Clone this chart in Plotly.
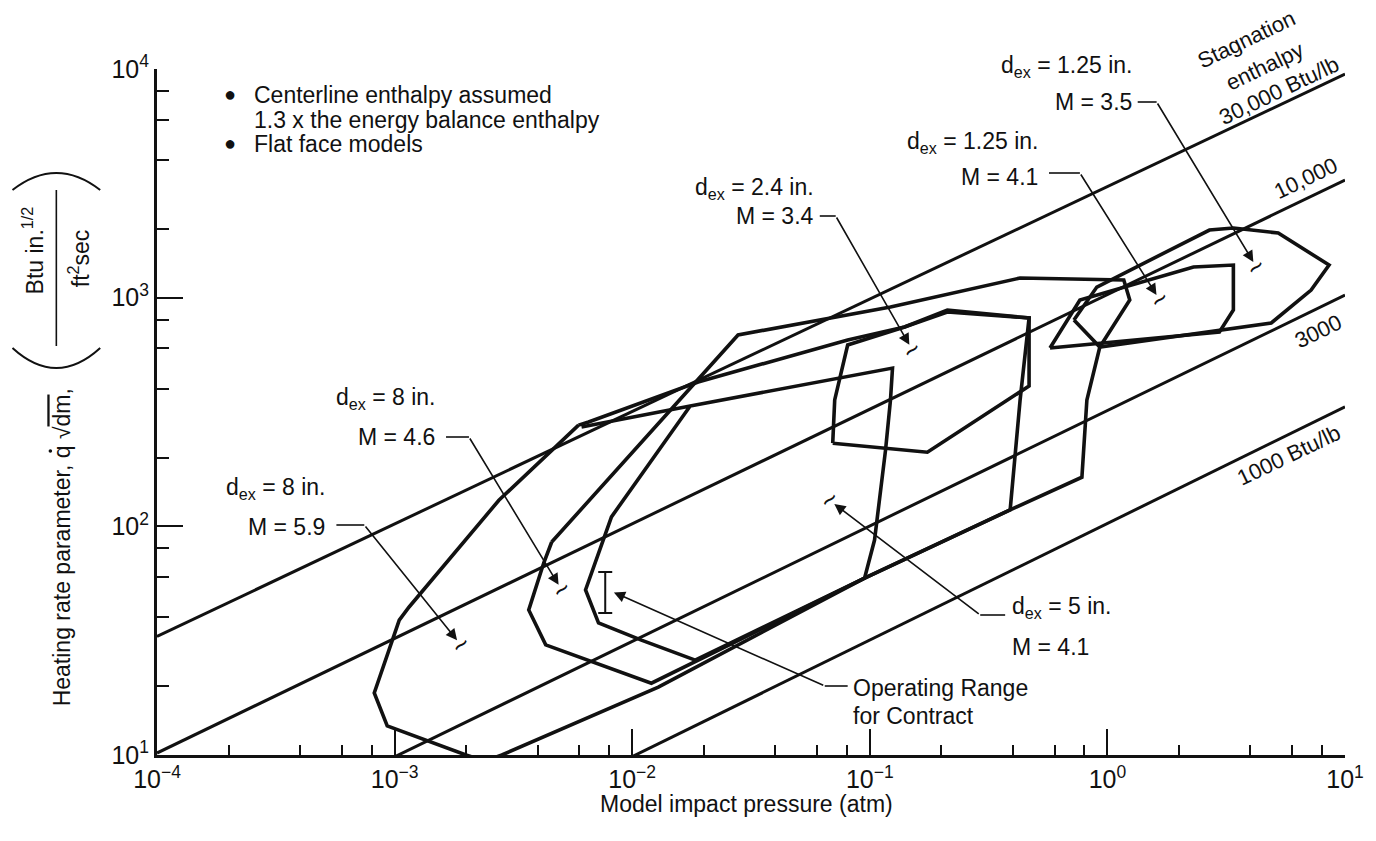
import math
import plotly.graph_objects as go

# ---------------- page / plot-area geometry (pixels) ----------------
FIG_W, FIG_H = 1376, 841
M_L, M_R, M_T, M_B = 157, 27, 69, 86
PLOT_W = FIG_W - M_L - M_R
PLOT_H = FIG_H - M_T - M_B
FONT = "Liberation Sans, Arial, Helvetica, sans-serif"
INK = "#111111"


def paper_x(px):
    return (px - M_L) / PLOT_W


def paper_y(py):
    return (FIG_H - M_B - py) / PLOT_H


def log_x(px):
    return -4 + 5 * paper_x(px)


def log_y(py):
    return 1 + 3 * paper_y(py)


# ---------------- data ----------------
pressure_ticks = [1e-4, 1e-3, 1e-2, 1e-1, 1e0, 1e1]
pressure_tick_text = ["10<sup>−4</sup>", "10<sup>−3</sup>", "10<sup>−2</sup>",
                      "10<sup>−1</sup>", "10<sup>0</sup>", "10<sup>1</sup>"]
rate_ticks = [1e1, 1e2, 1e3, 1e4]
rate_tick_text = ["10<sup>1</sup>", "10<sup>2</sup>", "10<sup>3</sup>", "10<sup>4</sup>"]

# stagnation-enthalpy lines, heating-rate parameter at p = 1e-4 and p = 10 atm
enthalpy_labels = ["30,000 Btu/lb", "10,000", "3000", "1000 Btu/lb"]
enthalpy_p_ends = [1e-4, 1e1]
enthalpy_q_start = [33.0, 10.2, 3.07, 0.94]
enthalpy_q_end = [9500.0, 3270.0, 1026.0, 333.0]

# operating envelopes (impact pressure, atm / heating-rate parameter)
p_d8_m59 = [5.945e-3, 6.55e-3, 0.01895, 0.08069, 0.1400, 0.2120, 0.4681, 0.4291, 0.3897,
            0.0951, 0.01288, 2.827e-3, 2.399e-3, 1.997e-3, 9.31e-4, 8.21e-4, 1.046e-3,
            1.151e-3, 2.747e-3, 5.945e-3]
q_d8_m59 = [277, 286, 428, 653, 744, 865, 815, 357, 118,
            59.4, 19.8, 10.0, 9.41, 10.0, 13.4, 18.7, 38.9,
            44.4, 130, 277]

p_d8_m46 = [4.584e-3, 0.01841, 0.02789, 0.1222, 0.4291, 1.172, 1.242, 0.9292, 0.8197,
            0.7811, 0.3897, 0.0951, 0.01204, 4.325e-3, 3.669e-3, 4.242e-3, 4.584e-3]
q_d8_m46 = [85.4, 428, 687, 910, 1219, 1195, 977, 608, 357,
            164, 118, 59.4, 20.6, 30.3, 43.1, 69.1, 85.4]

p_d5_m41 = [6.12e-3, 0.01754, 0.1246, 0.1222, 0.1165, 0.1047, 0.0951, 0.01841, 0.01093,
            7.214e-3, 6.362e-3, 8.18e-3, 0.01754]
q_d5_m41 = [272, 336, 492, 357, 216, 87.1, 59.4, 26.0, 31.8,
            37.8, 52.7, 110, 336]

p_d24_m34 = [0.06982, 0.07117, 0.08069, 0.1400, 0.2120, 0.4681, 0.4681, 0.1747, 0.06982]
q_d24_m34 = [231, 357, 621, 744, 883, 815, 411, 211, 231]

p_d125_m41 = [0.5733, 0.7661, 2.303, 3.390, 3.390, 2.961, 0.5733]
q_d125_m41 = [602, 977, 1362, 1389, 883, 708, 602]

p_d125_m35 = [0.7231, 0.9026, 2.689, 3.390, 5.236, 8.569, 7.201, 4.893, 0.9292, 0.7231]
q_d125_m35 = [799, 1113, 1976, 2017, 1918, 1389, 1080, 775, 608, 799]

envelopes = [(p_d8_m59, q_d8_m59), (p_d8_m46, q_d8_m46), (p_d5_m41, q_d5_m41),
             (p_d24_m34, q_d24_m34), (p_d125_m41, q_d125_m41), (p_d125_m35, q_d125_m35)]

# operating range for contract
contract_p = 7.7e-3
contract_q_low = 41.8
contract_q_high = 63.1

# points marked by the labelled leaders
pointer_p = [4.24, 1.66, 0.151, 5.05e-3, 1.90e-3, 0.0677, 7.94e-3]
pointer_q = [1361.0, 977.0, 590.0, 52.7, 30.3, 130.0, 52.7]

fig = go.Figure()

# enthalpy reference lines
for qs, qe in zip(enthalpy_q_start, enthalpy_q_end):
    fig.add_trace(go.Scatter(x=enthalpy_p_ends, y=[qs, qe], mode="lines",
                             line=dict(color=INK, width=3), hoverinfo="skip",
                             showlegend=False))

# nozzle envelopes
for px_, qy_ in envelopes:
    fig.add_trace(go.Scatter(x=px_, y=qy_, mode="lines",
                             line=dict(color=INK, width=3.6), hoverinfo="skip",
                             showlegend=False))

# operating range I-bar
fig.add_trace(go.Scatter(
    x=[contract_p], y=[contract_q_low], mode="markers",
    marker=dict(size=1, color="rgba(0,0,0,0)"),
    error_y=dict(type="data", symmetric=False,
                 array=[contract_q_high - contract_q_low], arrayminus=[0],
                 color=INK, thickness=2, width=7),
    hoverinfo="skip", showlegend=False))

annotations = []
shapes = []


def add_text(text, px, py, size=23, xanchor="center", angle=0, yanchor="middle"):
    annotations.append(dict(text=text, x=paper_x(px), y=paper_y(py), xref="paper",
                            yref="paper", showarrow=False, xanchor=xanchor,
                            yanchor=yanchor, textangle=angle,
                            font=dict(family=FONT, size=size, color=INK)))


def add_seg(x0, y0, x1, y1, width=1.6):
    shapes.append(dict(type="line", xref="paper", yref="paper",
                       x0=paper_x(x0), y0=paper_y(y0), x1=paper_x(x1), y1=paper_y(y1),
                       line=dict(color=INK, width=width)))


def add_arc(x0, x1, y_end, y_mid):
    xm = (x0 + x1) / 2
    shapes.append(dict(type="path", xref="paper", yref="paper",
                       path=(f"M {paper_x(x0)},{paper_y(y_end)} "
                             f"Q {paper_x(xm)},{paper_y(2 * y_mid - y_end)} "
                             f"{paper_x(x1)},{paper_y(y_end)}"),
                       line=dict(color=INK, width=2)))


def add_dot(cx, cy, r=1.8):
    shapes.append(dict(type="circle", xref="paper", yref="paper",
                       x0=paper_x(cx - r), x1=paper_x(cx + r),
                       y0=paper_y(cy + r), y1=paper_y(cy - r),
                       fillcolor=INK, line=dict(width=0)))


# legend notes
add_text("●", 230, 94, size=20)
add_text("Centerline enthalpy assumed", 252, 95, xanchor="left")
add_text("1.3 x the energy balance enthalpy", 252, 120, xanchor="left")
add_text("●", 230, 143, size=20)
add_text("Flat face models", 252, 144, xanchor="left")

# axis titles
add_text("Model impact pressure (atm)", 748, 804)
add_text("Heating rate parameter, q √<span style='text-decoration:overline'>dm</span>,",
         62, 547, angle=-90)
add_dot(50, 451)
add_text("Btu in.<sup>1/2</sup>", 33, 250, angle=-90)
add_text("ft<sup>2</sup>sec", 79, 258, angle=-90)
add_seg(56, 190, 56, 346, width=1.6)
add_arc(12, 100, 190, 173)
add_arc(12, 100, 348, 368)

# enthalpy line labels
add_text("Stagnation", 1250, 40, size=22, angle=-25.6)
add_text("enthalpy", 1268, 66, size=22, angle=-25.6)
add_text("30,000 Btu/lb", 1283, 90, size=22, angle=-25.6)
add_text("10,000", 1309, 178, size=22, angle=-25.6)
add_text("3000", 1322, 332, size=22, angle=-25.6)
add_text("1000 Btu/lb", 1292, 455, size=22, angle=-25.6)

# labelled leaders: (line1, line2, text x, y1, y2, anchor, bend start, bend end)
leaders = [
    ("d<sub>ex</sub> = 1.25 in.", "M = 3.5", 1137, 67, 102, "right", (1141, 102), (1160, 102)),
    ("d<sub>ex</sub> = 1.25 in.", "M = 4.1", 1043, 142, 177, "right", (1052, 173), (1083, 173)),
    ("d<sub>ex</sub> = 2.4 in.", "M = 3.4", 818, 188, 216, "right", (822, 216), (838, 216)),
    ("d<sub>ex</sub> = 8 in.", "M = 4.6", 438, 398, 437, "right", (447, 437), (470, 437)),
    ("d<sub>ex</sub> = 8 in.", "M = 5.9", 328, 488, 527, "right", (337, 525), (365, 525)),
    ("d<sub>ex</sub> = 5 in.", "M = 4.1", 1013, 607, 647, "left", (1008, 615), (983, 615)),
    ("Operating Range", "for Contract", 853, 688, 716, "left", (850, 686), (827, 686)),
]
for i, (t1, t2, tx, y1, y2, anc, b0, b1) in enumerate(leaders):
    add_text(t1, tx, y1, xanchor=anc)
    add_text(t2, tx, y2, xanchor=anc)
    add_seg(b0[0], b0[1], b1[0], b1[1])
    annotations.append(dict(
        x=math.log10(pointer_p[i]), y=math.log10(pointer_q[i]), xref="x", yref="y",
        ax=log_x(b1[0]), ay=log_y(b1[1]), axref="x", ayref="y", text="",
        showarrow=True, arrowhead=2, arrowsize=1.4, arrowwidth=1.6,
        arrowcolor=INK, standoff=6))
    if i < 6:
        annotations.append(dict(
            x=math.log10(pointer_p[i]), y=math.log10(pointer_q[i]), xref="x", yref="y",
            text="~", showarrow=False, textangle=-40,
            font=dict(family=FONT, size=27, color=INK)))

minor_p = [m * 10 ** e for e in range(-4, 1) for m in (2, 4, 6, 8)]
minor_q = [m * 10 ** e for e in range(1, 4) for m in (2, 4, 6, 8)]

fig.update_layout(
    width=FIG_W, height=FIG_H,
    margin=dict(l=M_L, r=M_R, t=M_T, b=M_B),
    paper_bgcolor="white", plot_bgcolor="white",
    showlegend=False,
    annotations=annotations, shapes=shapes,
    xaxis=dict(type="log", range=[-4, 1], showgrid=False, zeroline=False,
               showline=True, linecolor=INK, linewidth=3,
               ticks="inside", ticklen=26, tickwidth=2, tickcolor=INK,
               tickmode="array", tickvals=pressure_ticks, ticktext=pressure_tick_text,
               tickfont=dict(family=FONT, size=25, color=INK),
               minor=dict(ticks="inside", ticklen=10, tickwidth=2, tickcolor=INK,
                          tickmode="array", tickvals=minor_p, showgrid=False)),
    yaxis=dict(type="log", range=[1, 4], showgrid=False, zeroline=False,
               showline=True, linecolor=INK, linewidth=3,
               ticks="inside", ticklen=26, tickwidth=2, tickcolor=INK,
               tickmode="array", tickvals=rate_ticks, ticktext=rate_tick_text,
               tickfont=dict(family=FONT, size=25, color=INK),
               minor=dict(ticks="inside", ticklen=12, tickwidth=2, tickcolor=INK,
                          tickmode="array", tickvals=minor_q, showgrid=False)),
)

fig.write_html("out.html")
